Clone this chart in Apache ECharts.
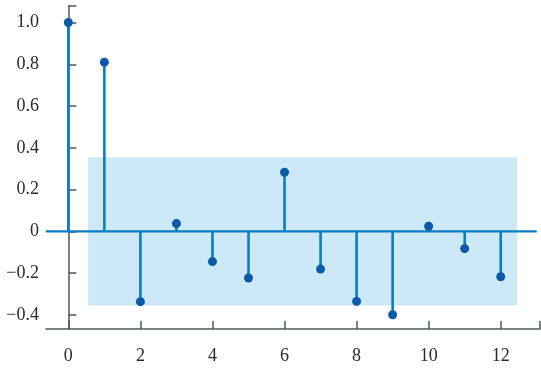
<!DOCTYPE html>
<html>
<head>
<meta charset="utf-8">
<script src="https://cdn.jsdelivr.net/npm/echarts@6/dist/echarts.min.js"></script>
<style>html,body{margin:0;padding:0;background:#fff}#c{width:541px;height:370px}</style>
</head>
<body>
<div id="c"></div>
<script>
var lags = [0,1,2,3,4,5,6,7,8,9,10,11,12];
var acf = [1.0,0.81,-0.337,0.037,-0.145,-0.224,0.283,-0.181,-0.336,-0.40,0.024,-0.083,-0.218];
var xTicks = [0,2,4,6,8,10,12];
var yTicks = [-0.4,-0.2,0,0.2,0.4,0.6,0.8,1.0];
var bandX = [0.55, 12.45];
var bandY = [-0.355, 0.355];
var zeroLineX = [-0.62, 13.0];

var axisColor = '#4d5959';
var stemColor = '#0a7dc6';
var dotColor = '#0b5aa8';
var font = 'Liberation Serif';

var chart = echarts.init(document.getElementById('c'), null, {renderer:'canvas'});
var pts = lags.map(function(l,i){return [l, acf[i]];});

chart.setOption({
  animation:false,
  grid:{left:46,right:1,top:6,bottom:41},
  xAxis:{
    type:'value', min:-0.62, max:13.09,
    splitLine:{show:false},
    axisLine:{onZero:false, lineStyle:{color:axisColor,width:1.5}},
    axisTick:{inside:true,length:8,customValues:xTicks.concat([13.09]),lineStyle:{color:axisColor,width:1.5}},
    axisLabel:{customValues:xTicks,margin:18,color:'#2a2a2a',fontFamily:font,fontSize:18}
  },
  yAxis:{
    type:'value', min:-0.468, max:1.079,
    splitLine:{show:false},
    axisLine:{show:true,lineStyle:{color:axisColor,width:1.5}},
    axisTick:{show:true,inside:true,length:8,customValues:yTicks.concat([1.079]),lineStyle:{color:axisColor,width:1.5}},
    axisLabel:{customValues:yTicks,margin:7,color:'#2a2a2a',fontFamily:font,fontSize:18,
      formatter:function(v){ if(Math.abs(v)<1e-9) return '0'; return v.toFixed(1).replace('-','\u2212'); }}
  },
  series:[
    {
      type:'line', data:[[zeroLineX[0],0],[zeroLineX[1],0]], symbol:'none',
      lineStyle:{color:stemColor,width:2.2}, z:3,
      markArea:{silent:true, itemStyle:{color:'#cde9f8'},
        data:[[{coord:[bandX[0],bandY[0]]},{coord:[bandX[1],bandY[1]]}]]}
    },
    {
      type:'custom', data:pts, z:4,
      renderItem:function(params,api){
        var p0 = api.coord([api.value(0),0]);
        var p1 = api.coord([api.value(0),api.value(1)]);
        return {type:'line',shape:{x1:p0[0],y1:p0[1],x2:p1[0],y2:p1[1]},
          style:{stroke:stemColor,lineWidth:2.6}};
      }
    },
    {
      type:'scatter', data:pts, symbol:'circle', symbolSize:9, z:5,
      itemStyle:{color:dotColor,opacity:1}
    }
  ]
});
</script>
</body>
</html>
